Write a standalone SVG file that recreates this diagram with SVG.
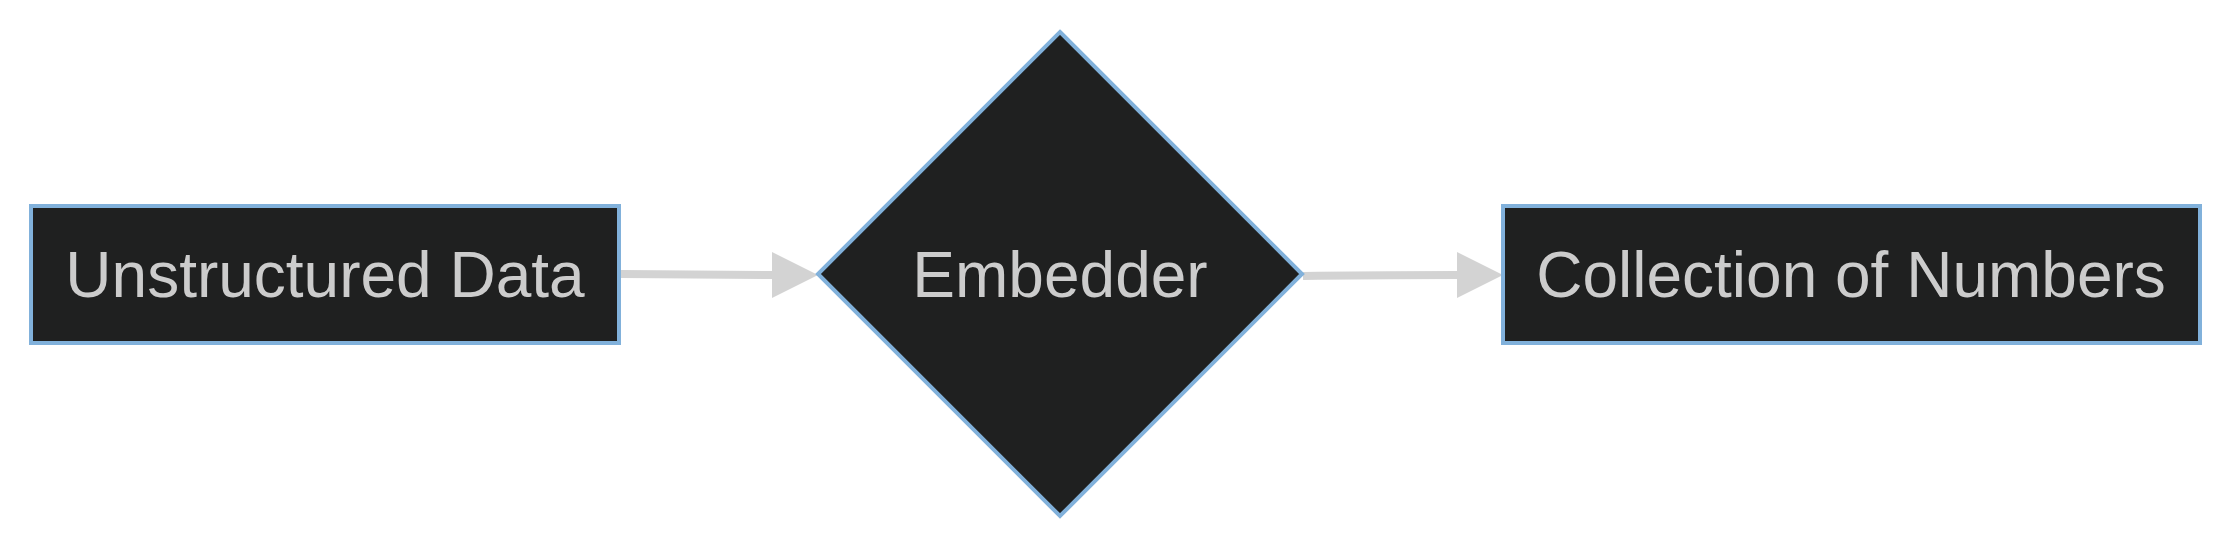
<svg xmlns="http://www.w3.org/2000/svg" width="2232" height="548" viewBox="0 0 2232 548">
<style>
.node{fill:#1f2020;stroke:#81b1db;stroke-width:4}
.label{fill:#cccccc;font-family:"Liberation Sans",Arial,sans-serif;font-size:64px;text-anchor:middle}
.edge{fill:none;stroke:#d3d3d3;stroke-width:8}
</style>
<defs>
<marker id="arrow" markerUnits="userSpaceOnUse" viewBox="0 0 10 10" refX="0" refY="5" markerWidth="46" markerHeight="48" orient="auto">
<path d="M0,0 L10,5 L0,10 Z" fill="#d3d3d3"/>
</marker>
</defs>
<rect width="2232" height="548" fill="#ffffff"/>
<g id="connectors">
<path class="edge" d="M621,274 C690,274 730,275 772,275" marker-end="url(#arrow)"/>
<path class="edge" d="M1303,276 C1360,275 1410,275 1457,275" marker-end="url(#arrow)"/>
</g>
<g id="unstructured">
<rect class="node" x="31" y="206" width="588" height="137"/>
<text class="label" x="325" y="297">Unstructured Data</text>
</g>
<g id="embedder">
<polygon class="node" points="1060,32 1302,274 1060,516 818,274"/>
<text class="label" x="1060" y="297">Embedder</text>
</g>
<g id="collection">
<rect class="node" x="1503" y="206" width="697" height="137"/>
<text class="label" x="1851" y="297">Collection of Numbers</text>
</g>
</svg>
